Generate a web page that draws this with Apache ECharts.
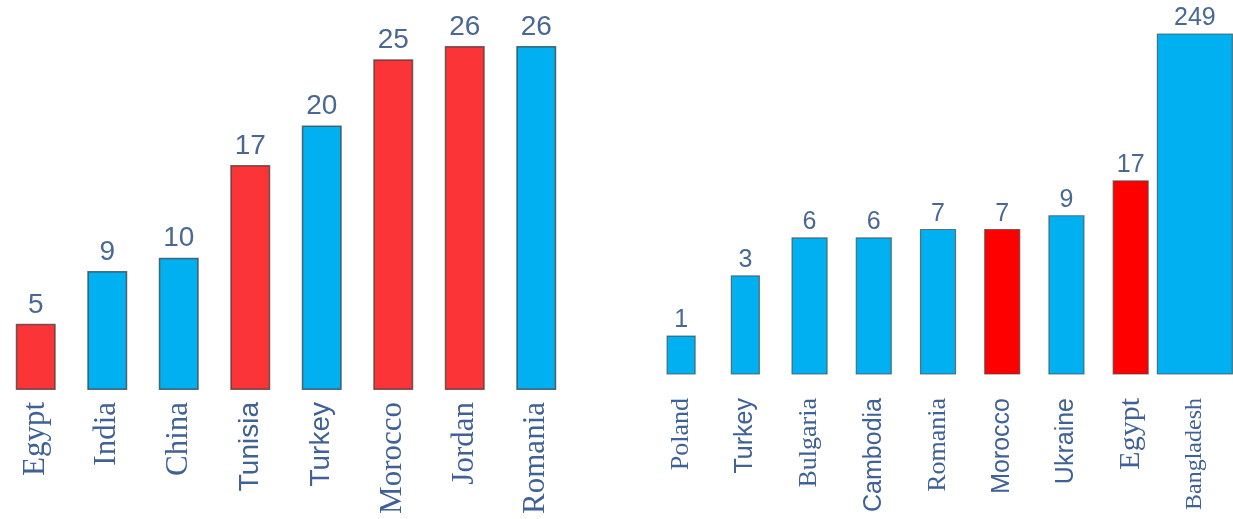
<!DOCTYPE html>
<html>
<head>
<meta charset="utf-8">
<script src="https://cdn.jsdelivr.net/npm/echarts@6/dist/echarts.min.js"></script>
<style>
  html, body { margin: 0; padding: 0; background: #ffffff; }
  #chart { width: 1233px; height: 519px; }
</style>
</head>
<body>
<div id="chart"></div>
<script>
// Left panel: countries and their counts
const leftCountries = ['Egypt', 'India', 'China', 'Tunisia', 'Turkey', 'Morocco', 'Jordan', 'Romania'];
const leftValues = [5, 9, 10, 17, 20, 25, 26, 26];

// Right panel: countries and their counts
const rightCountries = ['Poland', 'Turkey', 'Bulgaria', 'Cambodia', 'Romania', 'Morocco', 'Ukraine', 'Egypt', 'Bangladesh'];
const rightValues = [1, 3, 6, 6, 7, 7, 9, 17, 249];

// Styling (kept apart from the data)
const RED_L = '#fb3438', RED_R = '#ff0000', BLUE = '#00b0f0';
const leftColors = [RED_L, BLUE, BLUE, RED_L, BLUE, RED_L, RED_L, BLUE];
const rightColors = [BLUE, BLUE, BLUE, BLUE, BLUE, RED_R, BLUE, RED_R, BLUE];
const rightBarWidths = [28, 28, 35, 35, 35, 35, 35, 35, 75];
const leftLabelStyle = ['serifL', 'serifL', 'serifL', 'sansL', 'sansL', 'serifL', 'serifL', 'serifL'];
const rightLabelStyle = ['serifR', 'sansR', 'serifR', 'sansR', 'serifR', 'sansR', 'sansR', 'serifRBig', 'serifRSmall'];

const SERIF = '"Liberation Serif", "DejaVu Serif", serif';
const SANS = '"Liberation Sans", Arial, sans-serif';
const LABEL_COLOR = '#3f6195';
const VALUE_COLOR = '#4a6894';

const richStyles = {
  serifL: { fontFamily: SERIF, fontSize: 31, color: LABEL_COLOR },
  sansL: { fontFamily: SANS, fontSize: 28, color: LABEL_COLOR },
  serifR: { fontFamily: SERIF, fontSize: 26, color: LABEL_COLOR },
  sansR: { fontFamily: SANS, fontSize: 25, color: LABEL_COLOR },
  serifRBig: { fontFamily: SERIF, fontSize: 30, color: LABEL_COLOR },
  serifRSmall: { fontFamily: SERIF, fontSize: 24, color: LABEL_COLOR }
};

const chart = echarts.init(document.getElementById('chart'), null, { renderer: 'canvas' });

const hiddenAxisParts = {
  axisLine: { show: false },
  axisTick: { show: false },
  splitLine: { show: false }
};

chart.setOption({
  backgroundColor: '#ffffff',
  animation: false,
  grid: [
    { left: -6, top: 46, width: 578, height: 344 },
    { left: 649, top: 34, width: 578, height: 340 }
  ],
  xAxis: [
    {
      type: 'category', gridIndex: 0, data: leftCountries,
      ...hiddenAxisParts,
      axisLabel: {
        rotate: 90, margin: 12, interval: 0,
        formatter: (v, i) => '{' + leftLabelStyle[i] + '|' + v + '}',
        rich: richStyles
      }
    },
    {
      type: 'category', gridIndex: 1, data: rightCountries,
      ...hiddenAxisParts,
      axisLabel: {
        rotate: 90, margin: 24, interval: 0,
        formatter: (v, i) => '{' + rightLabelStyle[i] + '|' + v + '}',
        rich: richStyles
      }
    }
  ],
  yAxis: [
    {
      type: 'value', gridIndex: 0, show: false, min: 0,
      max: (e) => e.max, ...hiddenAxisParts
    },
    {
      type: 'log', gridIndex: 1, show: false, logBase: 10, min: 0.5,
      max: (e) => e.max, ...hiddenAxisParts
    }
  ],
  series: [
    {
      type: 'bar', xAxisIndex: 0, yAxisIndex: 0, barWidth: 40,
      data: leftValues.map((v, i) => ({
        value: v,
        itemStyle: { color: leftColors[i], borderColor: 'rgba(60,60,60,0.75)', borderWidth: 1.5 }
      })),
      label: {
        show: true, position: 'top', distance: 5,
        fontFamily: SANS, fontSize: 28, color: VALUE_COLOR
      }
    },
    {
      type: 'custom', xAxisIndex: 1, yAxisIndex: 1,
      data: rightValues.map((v, i) => [i, v]),
      encode: { x: 0, y: 1 },
      clip: false,
      renderItem: (params, api) => {
        const i = api.value(0);
        const v = api.value(1);
        const top = api.coord([i, v]);
        const baseY = params.coordSys.y + params.coordSys.height;
        const w = rightBarWidths[i];
        return {
          type: 'group',
          children: [
            {
              type: 'rect',
              shape: { x: top[0] - w / 2, y: top[1], width: w, height: baseY - top[1] },
              style: { fill: rightColors[i], stroke: 'rgba(70,70,70,0.7)', lineWidth: 1.2 }
            },
            {
              type: 'text',
              style: {
                text: String(v), x: top[0], y: top[1] - 3,
                align: 'center', verticalAlign: 'bottom',
                fill: VALUE_COLOR, fontSize: 25, fontFamily: SANS
              }
            }
          ]
        };
      }
    }
  ]
});
</script>
</body>
</html>
